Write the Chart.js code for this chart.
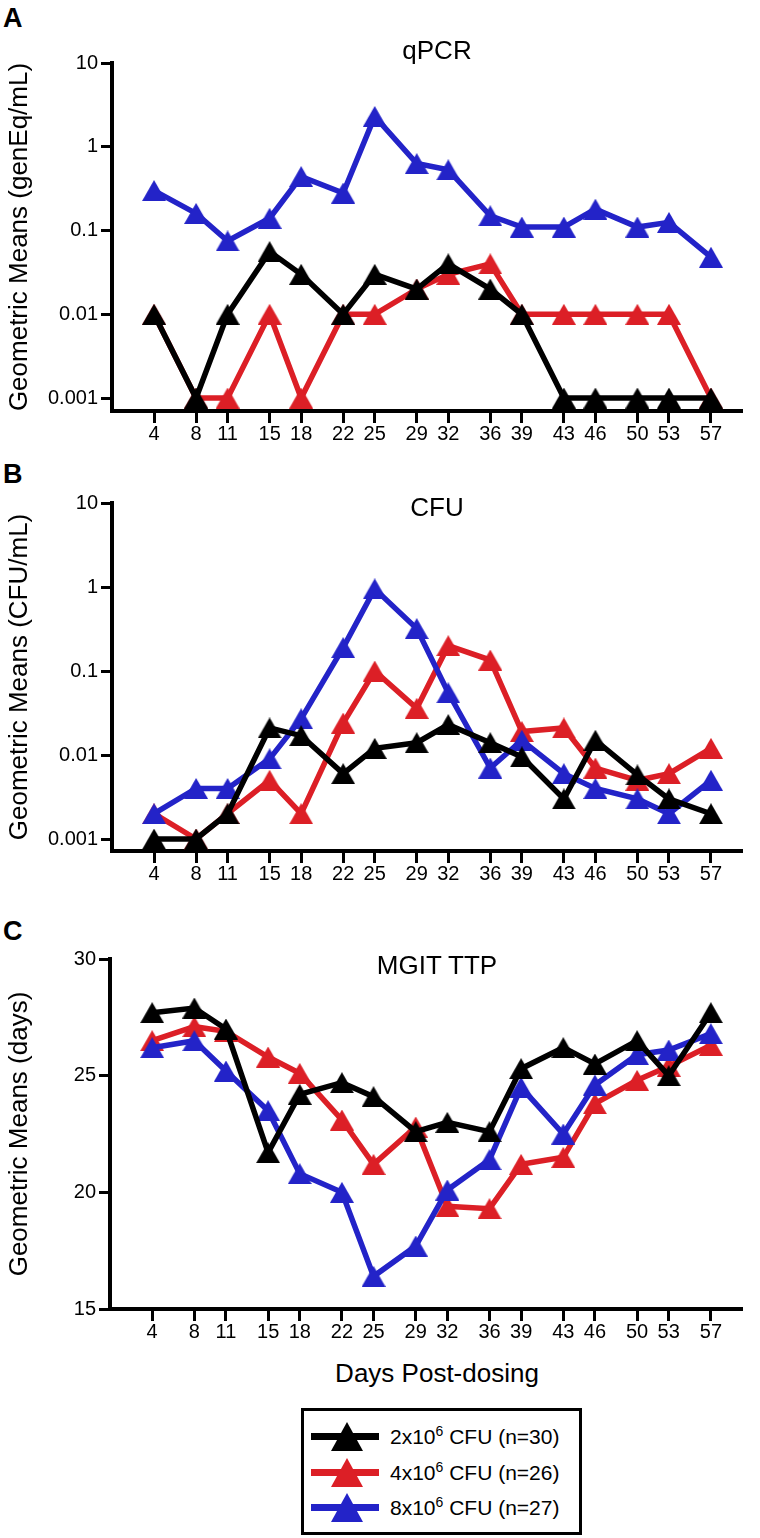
<!DOCTYPE html>
<html>
<head>
<meta charset="utf-8">
<script src="https://cdn.jsdelivr.net/npm/chart.js@4.4.1/dist/chart.umd.min.js"></script>
<style>
  html, body { margin: 0; padding: 0; background: #fff; }
  body { width: 760px; height: 1538px; position: relative; overflow: hidden;
         font-family: 'Liberation Sans', Arial, Helvetica, sans-serif; color: #000; }
  canvas { position: absolute; left: 0; }
  .letter { position: absolute; left: 3px; font-weight: bold; font-size: 27px; line-height: 27px; }
  .title { position: absolute; font-size: 26px; line-height: 26px; white-space: nowrap;
           transform: translate(-50%, -50%); }
  #legend { position: absolute; left: 301px; top: 1408px; width: 281px; height: 127px;
            border: 3px solid #000; box-sizing: border-box; }
  .row { position: absolute; left: 0; height: 36px; width: 100%; }
  .row .line { position: absolute; left: 7px; width: 68px; height: 7px; top: 14px; }
  .row .tri { position: absolute; left: 27px; top: 3px; width: 0; height: 0;
              border-left: 16px solid transparent; border-right: 16px solid transparent;
              border-bottom: 29px solid #000; }
  .row .txt { position: absolute; left: 86px; top: 6px; font-size: 21px; line-height: 24px; white-space: nowrap; }
  .row sup { font-size: 14px; vertical-align: 8px; line-height: 0; }
</style>
</head>
<body>
<div class="letter" style="top:5px">A</div>
<div class="letter" style="top:461px">B</div>
<div class="letter" style="top:918px">C</div>

<canvas id="qpcr" width="760" height="460" style="top:0px"></canvas>
<canvas id="cfu" width="760" height="460" style="top:440px"></canvas>
<canvas id="ttp" width="760" height="462" style="top:896px"></canvas>

<div class="title" style="left:437px; top:50px">qPCR</div>
<div class="title" style="left:437px; top:507px">CFU</div>
<div class="title" style="left:437px; top:965px">MGIT TTP</div>

<div class="title" style="left:437px; top:1373px">Days Post-dosing</div>

<div id="legend"></div>

<script>
// sampling days
const days = [4, 8, 11, 15, 18, 22, 25, 29, 32, 36, 39, 43, 46, 50, 53, 57];

// dose groups: 2, 4 and 8 x10^6 CFU
const doseMantissa = ['2', '4', '8'];
const groupSizes = [30, 26, 27];
const seriesColors = ['#000000', '#dc1f26', '#2323c8'];
const drawOrder = [0, 2, 1];

// qPCR geometric means (genEq/mL)
const qpcrDose2 = [0.01, 0.001, 0.01, 0.056, 0.03, 0.01, 0.03, 0.02, 0.04, 0.02, 0.01, 0.001, 0.001, 0.001, 0.001, 0.001];
const qpcrDose4 = [0.01, 0.001, 0.001, 0.01, 0.001, 0.01, 0.01, 0.02, 0.03, 0.04, 0.01, 0.01, 0.01, 0.01, 0.01, 0.001];
const qpcrDose8 = [0.3, 0.16, 0.075, 0.14, 0.44, 0.28, 2.3, 0.63, 0.53, 0.15, 0.11, 0.11, 0.18, 0.11, 0.125, 0.048];

// CFU geometric means (CFU/mL)
const cfuDose2 = [0.001, 0.001, 0.002, 0.021, 0.017, 0.006, 0.012, 0.014, 0.023, 0.014, 0.0095, 0.003, 0.015, 0.0058, 0.003, 0.002];
const cfuDose4 = [0.002, 0.001, 0.002, 0.005, 0.002, 0.024, 0.1, 0.036, 0.2, 0.135, 0.019, 0.021, 0.007, 0.005, 0.006, 0.012];
const cfuDose8 = [0.002, 0.004, 0.004, 0.009, 0.027, 0.19, 0.95, 0.32, 0.055, 0.007, 0.015, 0.006, 0.004, 0.003, 0.002, 0.005];

// MGIT time to positivity geometric means (days)
const ttpDose2 = [27.7, 27.9, 27.0, 21.7, 24.2, 24.7, 24.1, 22.6, 23.0, 22.6, 25.3, 26.2, 25.5, 26.5, 25.0, 27.7];
const ttpDose4 = [26.5, 27.1, 26.9, 25.8, 25.1, 23.1, 21.2, 22.8, 19.4, 19.3, 21.2, 21.5, 23.8, 24.8, 25.4, 26.3];
const ttpDose8 = [26.2, 26.5, 25.2, 23.5, 20.8, 20.0, 16.4, 17.7, 20.1, 21.4, 24.5, 22.5, 24.6, 25.9, 26.1, 26.8];

const logTicks = [0.001, 0.01, 0.1, 1, 10];
const logTickLabels = ['0.001', '0.01', '0.1', '1', '10'];
const ttpTicks = [15, 20, 25, 30];
const ttpTickLabels = ['15', '20', '25', '30'];

Chart.defaults.font.family = "'Liberation Sans', Arial, Helvetica, sans-serif";
Chart.defaults.font.size = 20;
Chart.defaults.color = '#000';

function triangle(color) {
  const c = document.createElement('canvas');
  c.width = 24; c.height = 21;
  const g = c.getContext('2d');
  g.fillStyle = color;
  g.beginPath();
  g.moveTo(12, 0); g.lineTo(24, 21); g.lineTo(0, 21);
  g.closePath();
  g.fill();
  return c;
}
const markers = seriesColors.map(triangle);

function makeChart(id, series, yTitle, yScale, left, right) {
  const datasets = series.map((vals, i) => ({
    label: doseMantissa[i] + 'x10\u2076 CFU (n=' + groupSizes[i] + ')',
    data: days.map((d, j) => ({ x: d, y: vals[j] })),
    borderColor: seriesColors[i],
    backgroundColor: seriesColors[i],
    borderWidth: 5.5,
    pointStyle: markers[i],
    pointRadius: 12,
    tension: 0,
    clip: false,
    order: drawOrder[i]
  }));

  return new Chart(document.getElementById(id), {
    type: 'line',
    data: { datasets },
    options: {
      responsive: false,
      animation: false,
      layout: { padding: { top: 63, right: right, left: 0, bottom: 0 } },
      plugins: { legend: { display: false }, tooltip: { enabled: false } },
      scales: {
        x: {
          type: 'linear', min: 0, max: 60,
          afterBuildTicks: s => { s.ticks = days.map(v => ({ value: v })); },
          afterFit: s => { s.height = 49; },
          ticks: { autoSkip: false, maxRotation: 0, padding: -1, callback: v => String(v) },
          grid: { drawOnChartArea: false, tickLength: 12, tickWidth: 3, tickColor: '#000' },
          border: { width: 4, color: '#000' }
        },
        y: Object.assign({
          afterFit: s => { s.width = left; },
          title: { display: true, text: yTitle, font: { size: 26 }, padding: { top: 4, bottom: 0 } },
          grid: { drawOnChartArea: false, tickLength: 11, tickWidth: 3, tickColor: '#000' },
          border: { width: 4, color: '#000' }
        }, yScale)
      }
    }
  });
}

function logAxis(min) {
  return {
    type: 'logarithmic', min: min, max: 10,
    afterBuildTicks: s => { s.ticks = logTicks.map(v => ({ value: v })); },
    ticks: { autoSkip: false, padding: 3, callback: (v, i) => logTickLabels[i] }
  };
}

makeChart('qpcr', [qpcrDose2, qpcrDose4, qpcrDose8], 'Geometric Means (genEq/mL)', logAxis(0.0007), 112, 15);
makeChart('cfu', [cfuDose2, cfuDose4, cfuDose8], 'Geometric Means (CFU/mL)', logAxis(0.00072), 112, 15);
makeChart('ttp', [ttpDose2, ttpDose4, ttpDose8], 'Geometric Means (days)', {
  type: 'linear', min: 15, max: 30,
  afterBuildTicks: s => { s.ticks = ttpTicks.map(v => ({ value: v })); },
  ticks: { autoSkip: false, padding: 3, callback: (v, i) => ttpTickLabels[i] }
}, 110, 4);

// legend
const legend = document.getElementById('legend');
doseMantissa.forEach((m, i) => {
  const row = document.createElement('div');
  row.className = 'row';
  row.style.top = (8 + i * 35.5) + 'px';
  row.innerHTML =
    '<div class="line" style="background:' + seriesColors[i] + '"></div>' +
    '<div class="tri" style="border-bottom-color:' + seriesColors[i] + '"></div>' +
    '<div class="txt">' + m + 'x10<sup>6</sup> CFU (n=' + groupSizes[i] + ')</div>';
  legend.appendChild(row);
});
</script>
</body>
</html>
